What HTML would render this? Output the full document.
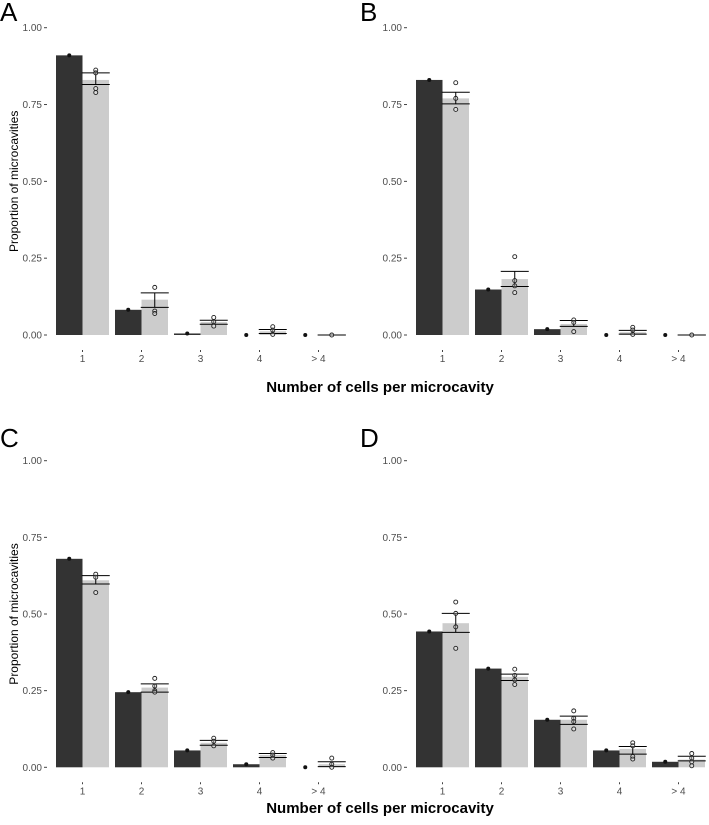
<!DOCTYPE html>
<html><head><meta charset="utf-8">
<style>
html,body{margin:0;padding:0;background:#fff;}
svg{display:block;font-family:"Liberation Sans",sans-serif;}
</style></head>
<body>
<svg id="chart" width="709" height="825" viewBox="0 0 709 825"></svg>
<script>
const categories = ["1","2","3","4","> 4"];
const yTicks = [0,0.25,0.5,0.75,1];
const yTickLabels = ["0.00","0.25","0.50","0.75","1.00"];
const panelLetters = ["A","B","C","D"];
const darkA = [0.91,0.082,0.005,0,0];
const lightA = [0.83,0.115,0.042,0.012,0];
const errLoA = [0.815,0.09,0.035,0.005,0];
const errHiA = [0.853,0.137,0.048,0.018,0];
const ptsA = [[0.862,0.853,0.802,0.789],[0.155,0.078,0.07],[0.057,0.043,0.029],[0.027,0.016,0.002],[0]];
const darkB = [0.83,0.148,0.019,0,0];
const lightB = [0.77,0.182,0.036,0.009,0];
const errLoB = [0.752,0.158,0.028,0.003,0];
const errHiB = [0.79,0.207,0.047,0.015,0];
const ptsB = [[0.821,0.77,0.734],[0.255,0.177,0.16,0.138],[0.049,0.041,0.011],[0.025,0.016,0.002],[0]];
const darkC = [0.68,0.245,0.055,0.01,0];
const lightC = [0.61,0.26,0.08,0.04,0.01];
const errLoC = [0.598,0.245,0.072,0.032,0.002];
const errHiC = [0.625,0.272,0.088,0.045,0.018];
const ptsC = [[0.63,0.62,0.57],[0.29,0.265,0.25,0.245],[0.095,0.085,0.07],[0.048,0.04,0.03],[0.03,0.01,0]];
const darkD = [0.443,0.322,0.155,0.055,0.018];
const lightD = [0.47,0.295,0.155,0.06,0.025];
const errLoD = [0.44,0.283,0.14,0.043,0.021];
const errHiD = [0.502,0.304,0.167,0.068,0.036];
const ptsD = [[0.539,0.502,0.458,0.388],[0.32,0.3,0.285,0.27],[0.184,0.16,0.149,0.125],[0.08,0.07,0.035,0.027],[0.045,0.03,0.018,0.005]];

const NS="http://www.w3.org/2000/svg";
const svg=document.getElementById("chart");
function mk(tag,attrs,parent,text){const e=document.createElementNS(NS,tag);for(const k in attrs)e.setAttribute(k,attrs[k]);if(text!==undefined)e.textContent=text;parent.appendChild(e);return e;}

const panels=[
 {ax:46,y0:335,y1:27.7,dark:darkA,light:lightA,lo:errLoA,hi:errHiA,pts:ptsA,lx:0,ly:21,ylab:true,xtitle:387},
 {ax:406,y0:335,y1:27.7,dark:darkB,light:lightB,lo:errLoB,hi:errHiB,pts:ptsB,lx:360,ly:21,ylab:false},
 {ax:46,y0:767.3,y1:460.7,dark:darkC,light:lightC,lo:errLoC,hi:errHiC,pts:ptsC,lx:0,ly:447,ylab:true,xtitle:808},
 {ax:406,y0:767.3,y1:460.7,dark:darkD,light:lightD,lo:errLoD,hi:errHiD,pts:ptsD,lx:360,ly:447,ylab:false}
];
const step=59, bw=26.5;
panels.forEach((p,pi)=>{
 const g=mk("g",{},svg);
 
 
 const y=v=>p.y0+(p.y1-p.y0)*v;
 const cx=i=>p.ax+36.5+i*step;
 const L=mk("text",{x:p.lx,y:p.ly,"font-size":26,fill:"#000"},g,panelLetters[pi]);
 
 
 yTicks.forEach((t,i)=>{
  const tl=mk("text",{x:p.ax-4,y:y(t)+3.5,"font-size":10,fill:"#4d4d4d","text-anchor":"end"},g,yTickLabels[i]);
  
  
  mk("line",{x1:p.ax-2,x2:p.ax+1,y1:y(t),y2:y(t),stroke:"#444","stroke-width":1},g);
 });
 categories.forEach((c,i)=>{
  const d=mk("rect",{x:cx(i)-bw,y:y(p.dark[i]),width:bw,height:Math.max(0,y(0)-y(p.dark[i])),fill:"#333333"},g);
  
  
  const l=mk("rect",{x:cx(i),y:y(p.light[i]),width:bw,height:Math.max(0,y(0)-y(p.light[i])),fill:"#cccccc"},g);
  
  
  const ex=cx(i)+bw/2;
  mk("line",{x1:ex,x2:ex,y1:y(p.lo[i]),y2:y(p.hi[i]),stroke:"#000","stroke-width":1},g);
  mk("line",{x1:ex-14,x2:ex+14,y1:y(p.lo[i]),y2:y(p.lo[i]),stroke:"#000","stroke-width":1},g);
  mk("line",{x1:ex-14,x2:ex+14,y1:y(p.hi[i]),y2:y(p.hi[i]),stroke:"#000","stroke-width":1},g);
  const dp=mk("circle",{cx:cx(i)-bw/2,cy:y(p.dark[i]),r:2,fill:"#111"},g);
  
  
  p.pts[i].forEach(v=>{
   const pt=mk("circle",{cx:ex,cy:y(v),r:2,fill:"#fff","fill-opacity":0.3,stroke:"#222","stroke-width":0.9},g);
   
   
  });
  mk("line",{x1:cx(i),x2:cx(i),y1:p.y0+15,y2:p.y0+17,stroke:"#444"},g);
  const xl=mk("text",{x:cx(i),y:p.y0+27,"font-size":10,fill:"#4d4d4d","text-anchor":"middle"},g,c);
  
  
 });
 if(p.ylab){
  const yt=mk("text",{x:0,y:0,"font-size":12,fill:"#000","text-anchor":"middle",transform:`translate(18,${(p.y0+p.y1)/2}) rotate(-90)`},g,"Proportion of microcavities");
  
  
  const xt=mk("text",{x:380,y:p.xtitle+5,"font-size":15,"font-weight":"bold",fill:"#000","text-anchor":"middle"},g,"Number of cells per microcavity");
  
  
 }
});
</script>
</body></html>
